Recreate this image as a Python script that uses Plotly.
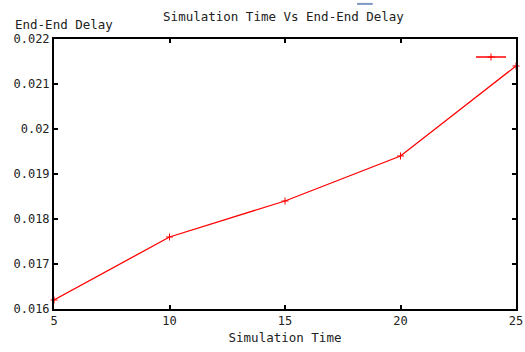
import plotly.graph_objects as go

sim_time = [5, 10, 15, 20, 25]
delay = [0.0162, 0.0176, 0.0184, 0.0194, 0.0214]

y_tickvals = [0.016, 0.017, 0.018, 0.019, 0.020, 0.021, 0.022]
y_ticktext = ["0.016", "0.017", "0.018", "0.019", "0.02", "0.021", "0.022"]
x_tickvals = [5, 10, 15, 20, 25]
x_ticktext = ["5", "10", "15", "20", "25"]

FONT = "DejaVu Sans Mono"

fig = go.Figure()
fig.add_trace(go.Scatter(
    x=sim_time, y=delay, mode="lines+markers", name="",
    line=dict(color="#ff0000", width=1.3),
    marker=dict(symbol="cross-thin", size=5, line=dict(color="#ff0000", width=1)),
    cliponaxis=False,
))

axis_common = dict(
    showline=True, linecolor="black", linewidth=2, mirror="ticks",
    ticks="inside", ticklen=4, tickwidth=2, tickcolor="black",
    showgrid=False, zeroline=False, automargin=False,
    tickfont=dict(family=FONT, size=12, color="#222222"),
)

fig.update_layout(
    width=525, height=352,
    margin=dict(l=54, r=9, t=39, b=43),
    paper_bgcolor="white", plot_bgcolor="white",
    title=dict(text="Simulation Time Vs End-End Delay", x=0.54, xanchor="center",
               y=0.952, yanchor="middle",
               font=dict(family=FONT, size=12.5, color="#222222")),
    xaxis=dict(range=[5, 25], tickvals=x_tickvals, ticktext=x_ticktext,
               title=dict(text="Simulation Time", standoff=6,
                          font=dict(family=FONT, size=12.5, color="#222222")),
               **axis_common),
    yaxis=dict(range=[0.016, 0.022], tickvals=y_tickvals, ticktext=y_ticktext,
               **axis_common),
    showlegend=True,
    legend=dict(x=1.0, y=0.987, xanchor="right", yanchor="top",
                bgcolor="rgba(0,0,0,0)", font=dict(family=FONT, size=10)),
    annotations=[dict(text="End-End Delay", xref="paper", yref="paper",
                      x=-0.089, y=1.0, xanchor="left", yanchor="bottom",
                      yshift=5, showarrow=False,
                      font=dict(family=FONT, size=12.5, color="#222222"))],
    shapes=[dict(type="line", xref="paper", yref="paper",
                 x0=0.656, x1=0.69, y0=1.13, y1=1.13,
                 line=dict(color="#7d97c4", width=2))],
)

fig.write_html("out.html",
               config={"displayModeBar": False},
               post_script="document.body.style.margin='0';document.body.style.padding='0';")
